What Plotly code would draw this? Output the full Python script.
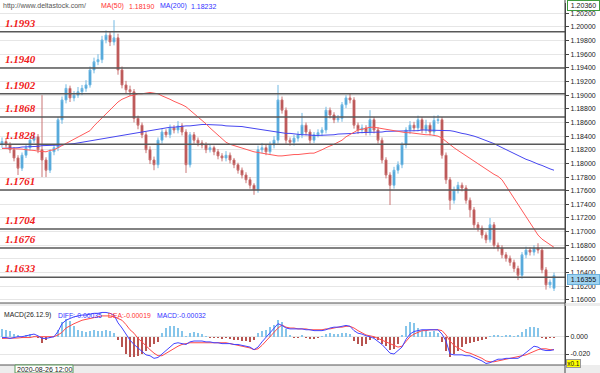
import plotly.graph_objects as go

W, H = 600, 373
PLOT_W = 565

OPEN = [
    1.1828, 1.1832, 1.1827, 1.1820, 1.1808, 1.1793, 1.1812, 1.1823, 1.1834, 1.1839,
    1.1820, 1.1805, 1.1790, 1.1817, 1.1823, 1.1864, 1.1893, 1.1910, 1.1896, 1.1900,
    1.1905, 1.1910, 1.1915, 1.1937, 1.1949, 1.1952, 1.1981, 1.1988, 1.1978, 1.1984,
    1.1937, 1.1915, 1.1908, 1.1905, 1.1866, 1.1856, 1.1842, 1.1820, 1.1805, 1.1798,
    1.1834, 1.1846, 1.1842, 1.1852, 1.1849, 1.1855, 1.1846, 1.1798, 1.1842, 1.1834,
    1.1830, 1.1827, 1.1820, 1.1823, 1.1817, 1.1811, 1.1808, 1.1812, 1.1805, 1.1798,
    1.1790, 1.1783, 1.1776, 1.1768, 1.1761, 1.1820, 1.1823, 1.1817, 1.1827, 1.1834,
    1.1893, 1.1878, 1.1834, 1.1831, 1.1837, 1.1842, 1.1856, 1.1846, 1.1834, 1.1842,
    1.1845, 1.1849, 1.1878, 1.1871, 1.1864, 1.1866, 1.1886, 1.1896, 1.1893, 1.1856,
    1.1849, 1.1852, 1.1846, 1.1864, 1.1849, 1.1834, 1.1805, 1.1783, 1.1768, 1.1790,
    1.1798, 1.1827, 1.1849, 1.1856, 1.1852, 1.1864, 1.1849, 1.1856, 1.1846, 1.1863,
    1.1864, 1.1812, 1.1776, 1.1746, 1.1761, 1.1768, 1.1764, 1.1746, 1.1732, 1.1710,
    1.1705, 1.1695, 1.1688, 1.1710, 1.1680, 1.1676, 1.1666, 1.1661, 1.1655, 1.1646,
    1.1636, 1.1666, 1.1673, 1.1670, 1.1676, 1.1673, 1.1644, 1.1622, 1.1617,
]
HIGH = [
    1.1838, 1.1836, 1.1831, 1.1824, 1.1812, 1.1816, 1.1827, 1.1839, 1.1845, 1.1843,
    1.1900, 1.1809, 1.1821, 1.1828, 1.1868, 1.1898, 1.1916, 1.1914, 1.1906, 1.1912,
    1.1915, 1.1922, 1.1942, 1.1955, 1.1960, 1.1987, 1.1995, 1.1993, 1.2010, 1.1990,
    1.1942, 1.1921, 1.1914, 1.1909, 1.1870, 1.1860, 1.1846, 1.1825, 1.1810, 1.1838,
    1.1851, 1.1850, 1.1857, 1.1856, 1.1862, 1.1859, 1.1850, 1.1846, 1.1846, 1.1838,
    1.1834, 1.1831, 1.1827, 1.1826, 1.1821, 1.1815, 1.1818, 1.1816, 1.1808, 1.1801,
    1.1794, 1.1787, 1.1780, 1.1771, 1.1826, 1.1830, 1.1827, 1.1832, 1.1840, 1.1915,
    1.1898, 1.1882, 1.1838, 1.1842, 1.1847, 1.1874, 1.1860, 1.1850, 1.1846, 1.1850,
    1.1853, 1.1883, 1.1882, 1.1875, 1.1871, 1.1890, 1.1900, 1.1902, 1.1897, 1.1860,
    1.1857, 1.1856, 1.1878, 1.1868, 1.1853, 1.1838, 1.1809, 1.1787, 1.1795, 1.1803,
    1.1831, 1.1853, 1.1862, 1.1861, 1.1870, 1.1868, 1.1864, 1.1860, 1.1870, 1.1871,
    1.1868, 1.1816, 1.1780, 1.1766, 1.1773, 1.1772, 1.1768, 1.1750, 1.1736, 1.1714,
    1.1709, 1.1699, 1.1720, 1.1714, 1.1684, 1.1680, 1.1670, 1.1665, 1.1659, 1.1650,
    1.1670, 1.1678, 1.1677, 1.1680, 1.1683, 1.1677, 1.1648, 1.1630, 1.1640,
]
LOW = [
    1.1823, 1.1823, 1.1815, 1.1803, 1.1783, 1.1789, 1.1808, 1.1819, 1.1830, 1.1815,
    1.1780, 1.1780, 1.1786, 1.1812, 1.1818, 1.1858, 1.1888, 1.1890, 1.1891, 1.1896,
    1.1900, 1.1905, 1.1911, 1.1932, 1.1944, 1.1947, 1.1976, 1.1972, 1.1973, 1.1930,
    1.1910, 1.1902, 1.1899, 1.1860, 1.1850, 1.1837, 1.1815, 1.1799, 1.1790, 1.1793,
    1.1829, 1.1838, 1.1837, 1.1844, 1.1844, 1.1841, 1.1786, 1.1794, 1.1829, 1.1825,
    1.1822, 1.1815, 1.1816, 1.1812, 1.1806, 1.1803, 1.1803, 1.1800, 1.1793, 1.1785,
    1.1778, 1.1771, 1.1763, 1.1754, 1.1757, 1.1815, 1.1812, 1.1813, 1.1822, 1.1829,
    1.1873, 1.1829, 1.1826, 1.1826, 1.1832, 1.1837, 1.1841, 1.1829, 1.1830, 1.1838,
    1.1840, 1.1844, 1.1866, 1.1859, 1.1860, 1.1861, 1.1881, 1.1888, 1.1851, 1.1843,
    1.1844, 1.1841, 1.1841, 1.1844, 1.1829, 1.1800, 1.1778, 1.1739, 1.1763, 1.1785,
    1.1793, 1.1822, 1.1843, 1.1847, 1.1847, 1.1844, 1.1844, 1.1841, 1.1841, 1.1858,
    1.1807, 1.1770, 1.1732, 1.1741, 1.1756, 1.1759, 1.1741, 1.1721, 1.1705, 1.1700,
    1.1690, 1.1683, 1.1684, 1.1675, 1.1671, 1.1661, 1.1656, 1.1650, 1.1641, 1.1629,
    1.1631, 1.1661, 1.1665, 1.1665, 1.1668, 1.1639, 1.1615, 1.1617, 1.1613,
]
CLOSE = [
    1.1832, 1.1827, 1.1820, 1.1808, 1.1793, 1.1812, 1.1823, 1.1834, 1.1839, 1.1820,
    1.1805, 1.1790, 1.1817, 1.1823, 1.1864, 1.1893, 1.1910, 1.1896, 1.1900, 1.1905,
    1.1910, 1.1915, 1.1937, 1.1949, 1.1952, 1.1981, 1.1988, 1.1978, 1.1984, 1.1937,
    1.1915, 1.1908, 1.1905, 1.1866, 1.1856, 1.1842, 1.1820, 1.1805, 1.1798, 1.1834,
    1.1846, 1.1842, 1.1852, 1.1849, 1.1855, 1.1846, 1.1798, 1.1842, 1.1834, 1.1830,
    1.1827, 1.1820, 1.1823, 1.1817, 1.1811, 1.1808, 1.1812, 1.1805, 1.1798, 1.1790,
    1.1783, 1.1776, 1.1768, 1.1761, 1.1820, 1.1823, 1.1817, 1.1827, 1.1834, 1.1893,
    1.1878, 1.1834, 1.1831, 1.1837, 1.1842, 1.1856, 1.1846, 1.1834, 1.1842, 1.1845,
    1.1849, 1.1878, 1.1871, 1.1864, 1.1866, 1.1886, 1.1896, 1.1893, 1.1856, 1.1849,
    1.1852, 1.1846, 1.1864, 1.1849, 1.1834, 1.1805, 1.1783, 1.1768, 1.1790, 1.1798,
    1.1827, 1.1849, 1.1856, 1.1852, 1.1864, 1.1849, 1.1856, 1.1846, 1.1863, 1.1864,
    1.1812, 1.1776, 1.1746, 1.1761, 1.1768, 1.1764, 1.1746, 1.1732, 1.1710, 1.1705,
    1.1695, 1.1688, 1.1710, 1.1680, 1.1676, 1.1666, 1.1661, 1.1655, 1.1646, 1.1636,
    1.1666, 1.1673, 1.1670, 1.1676, 1.1673, 1.1644, 1.1622, 1.1626, 1.16355,
]
MA50 = [
    1.1822, 1.1822, 1.1822, 1.1821, 1.1821, 1.1821, 1.1820, 1.1820, 1.1819, 1.1818,
    1.1817, 1.1817, 1.1819, 1.1820, 1.1823, 1.1826, 1.1829, 1.1832, 1.1835, 1.1838,
    1.1841, 1.1844, 1.1848, 1.1855, 1.1861, 1.1867, 1.1873, 1.1878, 1.1884, 1.1890,
    1.1894, 1.1897, 1.1899, 1.1900, 1.1902, 1.1902, 1.1903, 1.1904, 1.1903, 1.1902,
    1.1899, 1.1897, 1.1894, 1.1891, 1.1889, 1.1886, 1.1883, 1.1878, 1.1874, 1.1869,
    1.1864, 1.1858, 1.1852, 1.1847, 1.1842, 1.1836, 1.1831, 1.1828, 1.1826, 1.1824,
    1.1822, 1.1820, 1.1819, 1.1817, 1.1816, 1.1815, 1.1813, 1.1812, 1.1811, 1.1811,
    1.1811, 1.1812, 1.1812, 1.1813, 1.1813, 1.1814, 1.1815, 1.1815, 1.1815, 1.1817,
    1.1820, 1.1823, 1.1825, 1.1828, 1.1831, 1.1834, 1.1839, 1.1842, 1.1846, 1.1849,
    1.1850, 1.1852, 1.1853, 1.1853, 1.1852, 1.1850, 1.1849, 1.1848, 1.1848, 1.1847,
    1.1846, 1.1845, 1.1845, 1.1844, 1.1844, 1.1843, 1.1842, 1.1842, 1.1841, 1.1840,
    1.1837, 1.1832, 1.1827, 1.1823, 1.1819, 1.1815, 1.1812, 1.1808, 1.1803, 1.1799,
    1.1795, 1.1791, 1.1787, 1.1784, 1.1781, 1.1776, 1.1767, 1.1758, 1.1749, 1.1739,
    1.1730, 1.1721, 1.1713, 1.1704, 1.1695, 1.1689, 1.1685, 1.1680, 1.1677,
]
MA200 = [
    1.1822, 1.1822, 1.1823, 1.1823, 1.1823, 1.1824, 1.1824, 1.1825, 1.1825, 1.1825,
    1.1826, 1.1826, 1.1826, 1.1827, 1.1827, 1.1827, 1.1828, 1.1828, 1.1829, 1.1830,
    1.1831, 1.1832, 1.1833, 1.1833, 1.1834, 1.1835, 1.1836, 1.1837, 1.1838, 1.1840,
    1.1841, 1.1842, 1.1843, 1.1844, 1.1845, 1.1846, 1.1847, 1.1848, 1.1849, 1.1850,
    1.1851, 1.1852, 1.1853, 1.1853, 1.1854, 1.1854, 1.1855, 1.1855, 1.1856, 1.1856,
    1.1857, 1.1857, 1.1857, 1.1856, 1.1856, 1.1856, 1.1855, 1.1855, 1.1855, 1.1855,
    1.1854, 1.1853, 1.1852, 1.1851, 1.1850, 1.1849, 1.1848, 1.1847, 1.1846, 1.1846,
    1.1845, 1.1844, 1.1844, 1.1843, 1.1843, 1.1842, 1.1842, 1.1841, 1.1841, 1.1841,
    1.1841, 1.1842, 1.1842, 1.1842, 1.1843, 1.1843, 1.1843, 1.1844, 1.1844, 1.1845,
    1.1845, 1.1845, 1.1846, 1.1846, 1.1846, 1.1846, 1.1847, 1.1847, 1.1847, 1.1847,
    1.1848, 1.1848, 1.1848, 1.1848, 1.1848, 1.1849, 1.1849, 1.1849, 1.1849, 1.1849,
    1.1849, 1.1849, 1.1848, 1.1847, 1.1845, 1.1844, 1.1843, 1.1842, 1.1840, 1.1838,
    1.1836, 1.1834, 1.1832, 1.1829, 1.1826, 1.1823, 1.1820, 1.1817, 1.1814, 1.1811,
    1.1808, 1.1806, 1.1804, 1.1801, 1.1799, 1.1797, 1.1794, 1.1792, 1.1790,
]
DIFF = [
    -0.001, -0.001, -0.002, -0.001, 0.000, 0.000, 0.001, 0.002, 0.003, 0.001,
    -0.002, -0.002, -0.001, 0.000, 0.006, 0.015, 0.019, 0.021, 0.023, 0.024,
    0.025, 0.025, 0.026, 0.027, 0.027, 0.028, 0.028, 0.027, 0.025, 0.016,
    0.010, 0.003, -0.004, -0.009, -0.013, -0.017, -0.021, -0.022, -0.025, -0.024,
    -0.020, -0.016, -0.011, -0.008, -0.007, -0.008, -0.009, -0.006, -0.005, -0.005,
    -0.005, -0.006, -0.006, -0.007, -0.007, -0.008, -0.008, -0.008, -0.009, -0.009,
    -0.010, -0.011, -0.012, -0.015, -0.012, -0.006, -0.001, 0.005, 0.010, 0.015,
    0.013, 0.010, 0.009, 0.009, 0.009, 0.009, 0.008, 0.008, 0.007, 0.007,
    0.007, 0.008, 0.010, 0.011, 0.011, 0.012, 0.013, 0.012, 0.007, 0.004,
    0.003, 0.001, 0.000, -0.002, -0.005, -0.009, -0.014, -0.019, -0.020, -0.016,
    -0.012, -0.003, 0.003, 0.006, 0.007, 0.008, 0.008, 0.008, 0.008, 0.008,
    0.003, -0.005, -0.020, -0.021, -0.021, -0.021, -0.022, -0.022, -0.024, -0.026,
    -0.028, -0.031, -0.030, -0.028, -0.026, -0.026, -0.025, -0.025, -0.025, -0.025,
    -0.022, -0.018, -0.014, -0.011, -0.012, -0.015, -0.016, -0.016, -0.015,
]
DEA = [
    -0.002, -0.002, -0.002, -0.002, -0.0015, -0.001, -0.001, -0.001, 0.000, 0.000,
    0.000, 0.000, 0.000, 0.000, 0.002, 0.005, 0.010, 0.013, 0.015, 0.017,
    0.019, 0.020, 0.021, 0.022, 0.023, 0.024, 0.024, 0.024, 0.023, 0.021,
    0.019, 0.014, 0.008, 0.004, -0.002, -0.006, -0.011, -0.015, -0.019, -0.022,
    -0.022, -0.019, -0.016, -0.013, -0.011, -0.009, -0.008, -0.007, -0.007, -0.007,
    -0.007, -0.007, -0.007, -0.007, -0.007, -0.007, -0.007, -0.008, -0.009, -0.010,
    -0.011, -0.012, -0.013, -0.015, -0.014, -0.010, -0.005, 0.000, 0.004, 0.010,
    0.0135, 0.011, 0.010, 0.010, 0.009, 0.009, 0.009, 0.008, 0.008, 0.008,
    0.008, 0.009, 0.009, 0.010, 0.011, 0.011, 0.012, 0.012, 0.010, 0.007,
    0.004, 0.002, 0.001, 0.000, -0.002, -0.004, -0.006, -0.008, -0.010, -0.012,
    -0.011, -0.006, 0.000, 0.003, 0.005, 0.007, 0.007, 0.008, 0.008, 0.008,
    0.007, 0.002, -0.005, -0.010, -0.013, -0.016, -0.018, -0.019, -0.021, -0.023,
    -0.025, -0.028, -0.029, -0.029, -0.028, -0.027, -0.026, -0.025, -0.024, -0.023,
    -0.022, -0.021, -0.019, -0.017, -0.015, -0.014, -0.014, -0.015, -0.015,
]
MACD_HIST = [
    0.009, 0.008, 0.006, 0.003, 0.002, -0.001, 0.002, 0.003, 0.001, -0.002,
    -0.007, -0.004, -0.002, 0.001, 0.008, 0.017, 0.020, 0.018, 0.012, 0.008,
    0.006, 0.005, 0.006, 0.008, 0.006, 0.007, 0.008, 0.007, 0.004, -0.004,
    -0.012, -0.020, -0.024, -0.024, -0.022, -0.020, -0.016, -0.012, -0.009, -0.006,
    0.004, 0.010, 0.012, 0.012, 0.010, 0.006, 0.001, 0.004, 0.005, 0.004,
    0.003, 0.001, -0.001, -0.002, -0.002, -0.003, -0.002, -0.003, -0.004, -0.004,
    -0.005, -0.005, -0.006, -0.004, 0.004, 0.006, 0.008, 0.011, 0.014, 0.019,
    0.017, 0.009, 0.002, -0.001, -0.001, 0.002, -0.002, -0.003, -0.003, -0.002,
    0.001, 0.003, 0.004, 0.003, 0.003, 0.004, 0.004, 0.003, -0.005, -0.009,
    -0.011, -0.008, -0.004, -0.002, -0.004, -0.008, -0.011, -0.015, -0.014, -0.009,
    0.002, 0.012, 0.017, 0.016, 0.010, 0.006, 0.007, 0.005, 0.006, 0.004,
    -0.006, -0.016, -0.024, -0.020, -0.016, -0.012, -0.009, -0.007, -0.006, -0.005,
    -0.004, -0.003, 0.001, 0.002, 0.002, 0.001, 0.002, 0.002, 0.001, 0.002,
    0.005, 0.009, 0.011, 0.011, 0.010, -0.002, -0.003, -0.002, -0.001,
]
LEVELS = [1.1993, 1.1940, 1.1902, 1.1868, 1.1828, 1.1761, 1.1704, 1.1676, 1.1633]
PRICE_TICKS = [1.160, 1.162, 1.164, 1.166, 1.168, 1.170, 1.172, 1.174, 1.176, 1.178,
               1.180, 1.182, 1.184, 1.186, 1.188, 1.190, 1.192, 1.194, 1.196, 1.198,
               1.200, 1.202]
MACD_TICKS = [0.0, -0.02]
MACD_TICK_TEXT = ["0.000", "-0.020"]
TOP_PRICE = "1.20360"
LAST_PRICE = "1.16355"
DATE_LABEL = "2020-08-26 12:00"
HEADER = [("http://www.deltastock.com/", 2, "#555555"), ("MA(50)", 100, "#ff3030"),
          ("1.18190", 128, "#ff3030"), ("MA(200)", 159, "#3333ff"), ("1.18232", 190, "#3333ff")]
MACD_LEGEND = [("MACD(26.12.9)", 3, "#222222"), ("DIFF:-0.00035", 57, "#3333ff"),
               ("DEA:-0.00019", 107, "#ff3333"), ("MACD:-0.00032", 156, "#3333ff")]


def px(x):
    return x / PLOT_W


def py(y):
    return 1 - y / H


n = len(CLOSE)
idx = list(range(n))
SANS = "Liberation Sans, Arial, sans-serif"

fig = go.Figure()
fig.add_trace(go.Candlestick(
    x=idx, open=OPEN, high=HIGH, low=LOW, close=CLOSE,
    increasing=dict(line=dict(color="#72b9e3", width=1), fillcolor="#3a98d3"),
    decreasing=dict(line=dict(color="#c97474", width=1), fillcolor="#b23b3b"),
    whiskerwidth=0, xaxis="x", yaxis="y", hoverinfo="skip"))
fig.add_trace(go.Scatter(x=idx, y=MA200, mode="lines", line=dict(color="#4646f0", width=1),
                         xaxis="x", yaxis="y", hoverinfo="skip"))
fig.add_trace(go.Scatter(x=idx, y=MA50, mode="lines", line=dict(color="#ff5a5a", width=1),
                         xaxis="x", yaxis="y", hoverinfo="skip"))

bar_colors = ["#86c5ea" if v >= 0 else "#b85450" for v in MACD_HIST]
fig.add_trace(go.Bar(x=idx, y=MACD_HIST, marker=dict(color=bar_colors, line=dict(width=0)),
                     width=0.3, xaxis="x2", yaxis="y2", hoverinfo="skip"))
fig.add_trace(go.Scatter(x=idx, y=DEA, mode="lines", line=dict(color="#ff4a4a", width=1),
                         xaxis="x2", yaxis="y2", hoverinfo="skip"))
fig.add_trace(go.Scatter(x=idx, y=DIFF, mode="lines", line=dict(color="#4444ff", width=1),
                         xaxis="x2", yaxis="y2", hoverinfo="skip"))

xr = [-0.5, (n - 1) + (PLOT_W - 554) / 4.0]

shapes = []
annotations = []
for lv in LEVELS:
    shapes.append(dict(type="line", xref="paper", x0=0, x1=1, yref="y", y0=lv, y1=lv,
                       line=dict(color="#585858", width=1.5), layer="above"))
    annotations.append(dict(x=px(3), xref="paper", xanchor="left", y=lv, yref="y",
                            yanchor="bottom", yshift=1, showarrow=False,
                            text="<b><i>%.4f</i></b>" % lv,
                            font=dict(family="Liberation Serif, Times New Roman, serif",
                                      size=11, color="#f02020")))

# panel borders and bottom strip
shapes += [
    dict(type="rect", xref="paper", yref="paper", x0=0, x1=px(W), y0=py(306), y1=py(303),
         fillcolor="#ececec", line=dict(width=0), layer="above"),
    dict(type="line", xref="paper", yref="paper", x0=0, x1=1, y0=py(303), y1=py(303),
         line=dict(color="#555555", width=1), layer="above"),
    dict(type="rect", xref="paper", yref="paper", x0=0, x1=px(W), y0=0, y1=py(365),
         fillcolor="#ededed", line=dict(width=0), layer="above"),
    dict(type="line", xref="paper", yref="paper", x0=0, x1=1, y0=py(365), y1=py(365),
         line=dict(color="#555555", width=1), layer="above"),
    dict(type="rect", xref="paper", yref="paper", x0=px(15), x1=px(73), y0=py(373), y1=py(365),
         fillcolor="#ffffff", line=dict(color="#5a9a5a", width=1), layer="above"),
    dict(type="line", xref="paper", yref="paper", x0=1, x1=1, y0=0, y1=1,
         line=dict(color="#444444", width=1), layer="above"),
]

for text, x, color in HEADER:
    annotations.append(dict(x=px(x), xref="paper", xanchor="left", y=py(6), yref="paper",
                            yanchor="middle", showarrow=False, text=text, borderpad=0,
                            font=dict(family=SANS, size=7, color=color)))
for text, x, color in MACD_LEGEND:
    annotations.append(dict(x=px(x), xref="paper", xanchor="left", y=py(315), yref="paper",
                            yanchor="middle", showarrow=False, text=text, borderpad=0,
                            font=dict(family=SANS, size=6.8, color=color)))

annotations += [
    dict(x=px(44), xref="paper", xanchor="center", y=py(369.5), yref="paper", yanchor="middle",
         showarrow=False, text=DATE_LABEL, borderpad=0,
         font=dict(family=SANS, size=7, color="#222222")),
    dict(x=px(583), xref="paper", xanchor="center", y=py(5), yref="paper", yanchor="middle",
         showarrow=False, text=TOP_PRICE, bgcolor="#ffffff", bordercolor="#3c9a3c",
         borderwidth=1, borderpad=0, width=31, height=9,
         font=dict(family=SANS, size=7, color="#222222")),
    dict(x=px(583), xref="paper", xanchor="center", y=py(279.5), yref="paper", yanchor="middle",
         showarrow=False, text=LAST_PRICE, bgcolor="#9fd3f0", bordercolor="#6ab0dc",
         borderwidth=1, borderpad=0, width=31, height=9,
         font=dict(family=SANS, size=7, color="#111111")),
    dict(x=px(573), xref="paper", xanchor="center", y=py(363), yref="paper", yanchor="middle",
         showarrow=False, text="x0.1", bgcolor="#ffff00", bordercolor="#999999",
         borderwidth=1, borderpad=0, width=13, height=7,
         font=dict(family=SANS, size=6.5, color="#111111")),
]

fig.update_layout(
    width=W, height=H,
    margin=dict(l=0, r=W - PLOT_W, t=0, b=0),
    paper_bgcolor="#ffffff", plot_bgcolor="#ffffff",
    showlegend=False, hovermode=False, bargap=0,
    xaxis=dict(domain=[0, 1], range=xr, visible=False, rangeslider=dict(visible=False),
               anchor="y"),
    xaxis2=dict(domain=[0, 1], range=xr, visible=False, matches="x", anchor="y2"),
    yaxis=dict(domain=[py(303), py(3)], range=[1.15954, 1.20351], side="right", anchor="x",
               tickvals=PRICE_TICKS, ticktext=["%.5f" % t for t in PRICE_TICKS],
               ticks="outside", ticklen=3, tickcolor="#444444",
               tickfont=dict(family=SANS, size=7, color="#222222"),
               showgrid=True, gridcolor="#e6e6e6", gridwidth=1, zeroline=False,
               showline=True, linecolor="#444444", linewidth=1),
    yaxis2=dict(domain=[py(365), py(305)], range=[-0.0327, 0.0366], side="right", anchor="x2",
                tickvals=MACD_TICKS, ticktext=MACD_TICK_TEXT,
                ticks="outside", ticklen=3, tickcolor="#444444",
                tickfont=dict(family=SANS, size=7, color="#222222"),
                showgrid=True, gridcolor="#e6e6e6", gridwidth=1, zeroline=False,
                showline=True, linecolor="#444444", linewidth=1),
    shapes=shapes,
    annotations=annotations,
)

fig.write_html(
    "out.html",
    config={"displayModeBar": False, "staticPlot": True},
    post_script="document.body.style.margin='0';document.body.style.padding='0';"
                "document.body.style.overflow='hidden';",
)
